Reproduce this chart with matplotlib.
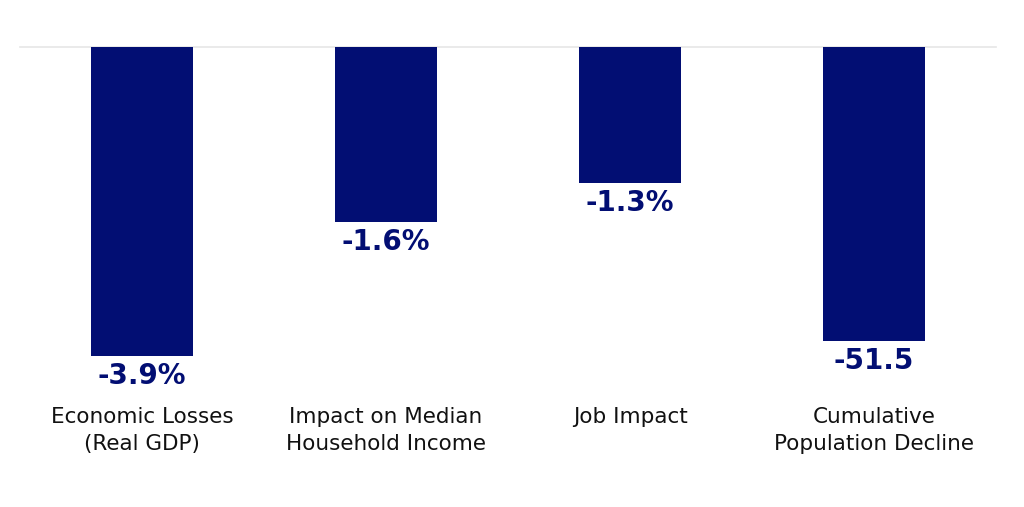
import matplotlib
matplotlib.use("Agg")
import matplotlib.pyplot as plt
import numpy as np

categories = ["Economic Losses\n(Real GDP)", "Impact on Median\nHousehold Income",
              "Job Impact", "Cumulative\nPopulation Decline"]
value_labels = ["-3.9%", "-1.6%", "-1.3%", "-51.5"]
# drawn bar lengths (the last bar is on its own scale in the original)
bar_heights = [-3.9, -2.21, -1.72, -3.71]

navy = "#020e73"

fig = plt.figure(figsize=(10.24, 5.07), dpi=100)
ax = fig.add_axes([20 / 1024, (507 - 356) / 507, 976 / 1024, 309 / 507])

x = np.arange(len(categories))
ax.bar(x, bar_heights, width=0.42, color=navy)
ax.set_xlim(-0.5, 3.5)
ax.set_ylim(-3.9, 0)
ax.axhline(0, color="#e6e6e6", lw=1.2, zorder=0, clip_on=False)

for xi, h, lab in zip(x, bar_heights, value_labels):
    ax.annotate(lab, (xi, h), xytext=(0, -4), textcoords="offset points",
                ha="center", va="top", fontsize=20, fontweight="bold", color=navy,
                annotation_clip=False)

for xi, cat in zip(x, categories):
    ax.annotate(cat, (xi, -3.9), xytext=(0, -37), textcoords="offset points",
                ha="center", va="top", fontsize=15.5, color="#111111",
                linespacing=1.4, annotation_clip=False)

ax.axis("off")
fig.savefig("out.png", dpi=100)
